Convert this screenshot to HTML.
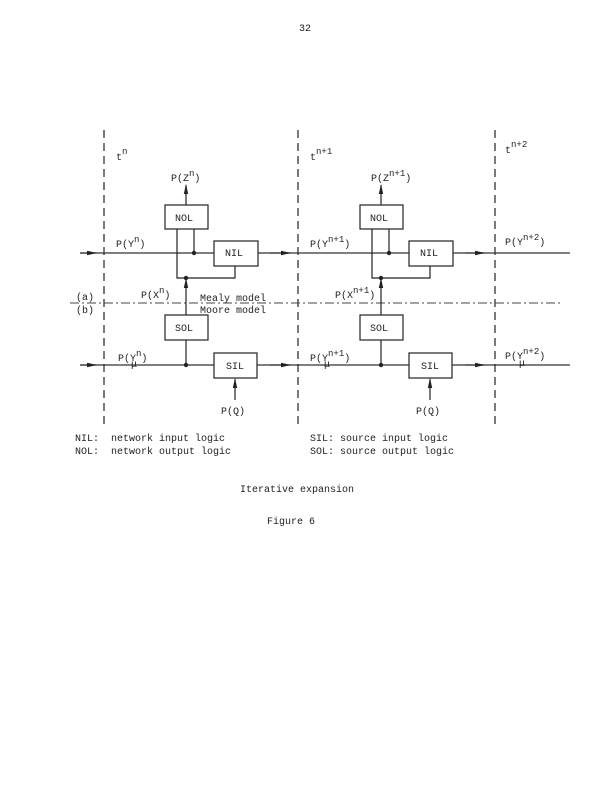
<!DOCTYPE html>
<html><head><meta charset="utf-8"><style>
html,body{margin:0;padding:0;background:#fff;}
svg{display:block}
text{font-family:"Liberation Mono",monospace;font-size:10px;fill:#222}
</style></head><body>
<svg width="612" height="791" viewBox="0 0 612 791" xmlns="http://www.w3.org/2000/svg">
<defs>
<marker id="a" markerWidth="10" markerHeight="6" refX="9" refY="3" orient="auto" markerUnits="userSpaceOnUse"><path d="M0,0.8 L10,3 L0,5.2z" fill="#222"/></marker>
</defs>
<text x="299" y="31" font-size="11">32</text>
<g stroke="#222" stroke-width="1.2" stroke-dasharray="8,5" fill="none">
<line x1="104" y1="130" x2="104" y2="427"/>
<line x1="298" y1="130" x2="298" y2="427"/>
<line x1="495" y1="130" x2="495" y2="427"/>
</g>
<line x1="70" y1="303" x2="560" y2="303" stroke="#444" stroke-width="1" stroke-dasharray="9,3,2,3"/>
<g stroke="#333" stroke-width="1.2" fill="none">
<line x1="80" y1="253" x2="570" y2="253"/>
<line x1="80" y1="365" x2="570" y2="365"/>
<line x1="80" y1="253" x2="96" y2="253" marker-end="url(#a)"/>
<line x1="80" y1="365" x2="96" y2="365" marker-end="url(#a)"/>
<line x1="270" y1="253" x2="290" y2="253" marker-end="url(#a)"/>
<line x1="270" y1="365" x2="290" y2="365" marker-end="url(#a)"/>
<line x1="465" y1="253" x2="484" y2="253" marker-end="url(#a)"/>
<line x1="465" y1="365" x2="484" y2="365" marker-end="url(#a)"/>
</g>
<g id="p" stroke="#222" stroke-width="1.2" fill="none">
<rect x="165" y="205" width="43" height="24" fill="#fff"/>
<rect x="214" y="241" width="44" height="25" fill="#fff"/>
<rect x="165" y="315" width="43" height="25" fill="#fff"/>
<rect x="214" y="353" width="43" height="25" fill="#fff"/>
<line x1="186" y1="205" x2="186" y2="185" marker-end="url(#a)"/>
<polyline points="177,229 177,278 235,278 235,266"/>
<line x1="194" y1="229" x2="194" y2="253"/>
<line x1="186" y1="315" x2="186" y2="279" marker-end="url(#a)"/>
<line x1="186" y1="340" x2="186" y2="365"/>
<line x1="235" y1="400" x2="235" y2="379" marker-end="url(#a)"/>
<circle cx="194" cy="253" r="1.6" fill="#222"/>
<circle cx="186" cy="278" r="1.6" fill="#222"/>
<circle cx="186" cy="365" r="1.6" fill="#222"/>
</g>
<use href="#p" transform="translate(195,0)"/>
<g>
<text x="175" y="221">NOL</text><text x="225" y="256">NIL</text>
<text x="175" y="331">SOL</text><text x="226" y="369">SIL</text>
<text x="370" y="221">NOL</text><text x="420" y="256">NIL</text>
<text x="370" y="331">SOL</text><text x="421" y="369">SIL</text>
<text x="116" y="160">t<tspan dy="-6" font-size="9">n</tspan></text>
<text x="310" y="160">t<tspan dy="-6" font-size="9">n+1</tspan></text>
<text x="505" y="153">t<tspan dy="-6" font-size="9">n+2</tspan></text>
<text x="171" y="181">P(Z<tspan dy="-5" font-size="9">n</tspan><tspan dy="5">)</tspan></text>
<text x="371" y="181">P(Z<tspan dy="-5" font-size="9">n+1</tspan><tspan dy="5">)</tspan></text>
<text x="116" y="247">P(Y<tspan dy="-5" font-size="9">n</tspan><tspan dy="5">)</tspan></text>
<text x="310" y="247">P(Y<tspan dy="-5" font-size="9">n+1</tspan><tspan dy="5">)</tspan></text>
<text x="505" y="245">P(Y<tspan dy="-5" font-size="9">n+2</tspan><tspan dy="5">)</tspan></text>
<text x="141" y="298">P(X<tspan dy="-5" font-size="9">n</tspan><tspan dy="5">)</tspan></text>
<text x="335" y="298">P(X<tspan dy="-5" font-size="9">n+1</tspan><tspan dy="5">)</tspan></text>
<text x="200" y="301">Mealy model</text>
<text x="200" y="313">Moore model</text>
<text x="76" y="300">(a)</text>
<text x="76" y="313">(b)</text>
<text x="118" y="361">P(Y<tspan dy="-5" font-size="9">n</tspan><tspan dy="5">)</tspan></text>
<text x="131" y="367" font-size="8">μ</text>
<text x="310" y="361">P(Y<tspan dy="-5" font-size="9">n+1</tspan><tspan dy="5">)</tspan></text>
<text x="324" y="367" font-size="8">μ</text>
<text x="505" y="359">P(Y<tspan dy="-5" font-size="9">n+2</tspan><tspan dy="5">)</tspan></text>
<text x="519" y="366" font-size="8">μ</text>
<text x="221" y="414">P(Q)</text>
<text x="416" y="414">P(Q)</text>
<text x="75" y="441" xml:space="preserve">NIL:  network input logic</text>
<text x="75" y="454" xml:space="preserve">NOL:  network output logic</text>
<text x="310" y="441">SIL: source input logic</text>
<text x="310" y="454">SOL: source output logic</text>
<text x="240" y="492">Iterative expansion</text>
<text x="267" y="524">Figure 6</text>
</g>
</svg>
</body></html>
